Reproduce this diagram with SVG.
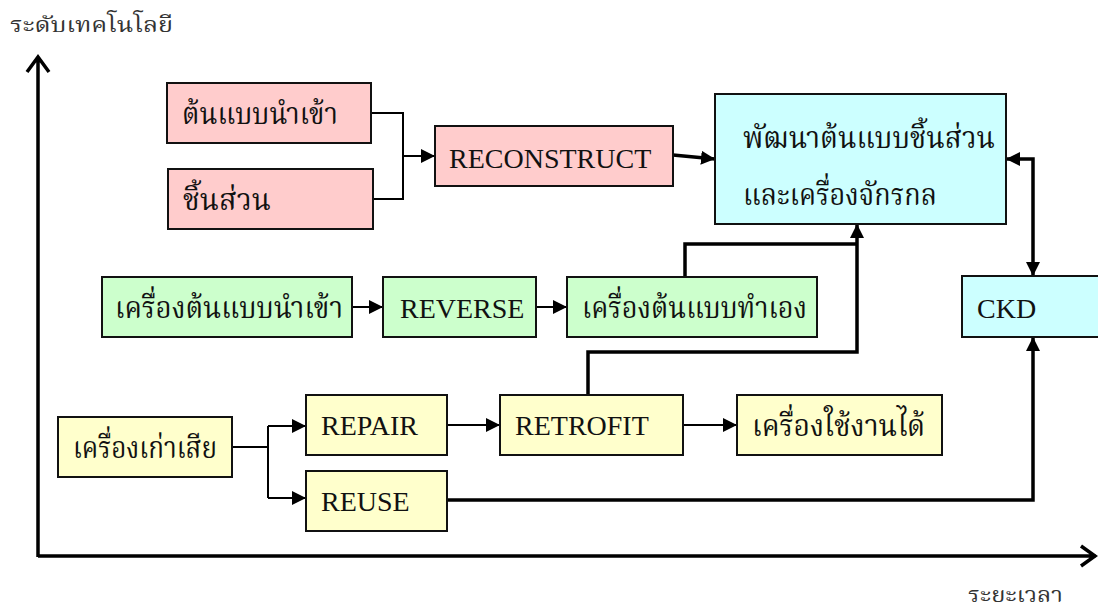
<svg xmlns="http://www.w3.org/2000/svg" width="1098" height="607" viewBox="0 0 1098 607">
<style>
.box{stroke:#111;stroke-width:2}
.pink{fill:#FFCCCC}.cyan{fill:#CCFFFF}.green{fill:#CCFFCC}.yellow{fill:#FFFFCC}
.lat{font-family:"Liberation Serif","Times New Roman",serif;font-size:28px;fill:#111}
.th{font-family:"Liberation Serif","Noto Serif Thai","Norasi","Kinnari","Noto Sans Thai",serif;font-size:30px;fill:#111}
.ax{font-family:"Liberation Serif","Noto Serif Thai","Norasi","Kinnari","Noto Sans Thai",serif;font-size:22px;fill:#333}
.c{fill:none;stroke:#000;stroke-width:2}
.ct{fill:none;stroke:#000;stroke-width:3.5}
.axis{fill:none;stroke:#000;stroke-width:3.5}
</style>
<defs>
<marker id="a" viewBox="0 0 12 12" refX="12" refY="6" markerWidth="14" markerHeight="14" markerUnits="userSpaceOnUse" orient="auto"><path d="M0,0L12,6L0,12z" fill="#000"/></marker>
<marker id="as" viewBox="0 0 12 12" refX="12" refY="6" markerWidth="14" markerHeight="14" markerUnits="userSpaceOnUse" orient="auto-start-reverse"><path d="M0,0L12,6L0,12z" fill="#000"/></marker>
</defs>

<g id="axes">
<path class="axis" d="M38,557V57M27,72L38,57L49,72"/>
<path class="axis" d="M38,556H1096M1081,546L1095,556L1081,566"/>
<text class="ax" x="10" y="32" textLength="163" lengthAdjust="spacingAndGlyphs">ระดับเทคโนโลยี</text>
<text class="ax" x="968" y="602" textLength="95" lengthAdjust="spacingAndGlyphs">ระยะเวลา</text>
</g>

<g id="connectors">
<path class="c" d="M371,113H403V199H373"/>
<path class="c" d="M403,156H435" marker-end="url(#a)"/>
<path class="ct" d="M673,155L715,159" marker-end="url(#a)"/>
<path class="ct" d="M1006,159H1033V276" marker-start="url(#as)" marker-end="url(#as)"/>
<path class="c" d="M352,307H383" marker-end="url(#a)"/>
<path class="c" d="M536,307H567" marker-end="url(#a)"/>
<path class="ct" d="M685,277V244H857"/>
<path class="ct" d="M588,395V352H857V224" marker-end="url(#a)"/>
<path class="c" d="M232,447H268"/>
<path class="c" d="M268,426V498"/>
<path class="c" d="M268,426H306" marker-end="url(#a)"/>
<path class="c" d="M268,498H306" marker-end="url(#a)"/>
<path class="c" d="M447,425H500" marker-end="url(#a)"/>
<path class="c" d="M683,425H737" marker-end="url(#a)"/>
<path class="ct" d="M447,500H1033V337" marker-end="url(#a)"/>
</g>

<g id="n-import"><rect class="box pink" x="167" y="83" width="204" height="60"/><text class="th" x="182" y="124" textLength="156" lengthAdjust="spacingAndGlyphs">ต้นแบบนำเข้า</text></g>
<g id="n-parts"><rect class="box pink" x="168" y="169" width="205" height="60"/><text class="th" x="183" y="210" textLength="88" lengthAdjust="spacingAndGlyphs">ชิ้นส่วน</text></g>
<g id="n-reconstruct"><rect class="box pink" x="435" y="126" width="238" height="60"/><text class="lat" x="449" y="168">RECONSTRUCT</text></g>
<g id="n-develop"><rect class="box cyan" x="715" y="94" width="291" height="130"/><text class="th" x="743" y="148" textLength="252" lengthAdjust="spacingAndGlyphs">พัฒนาต้นแบบชิ้นส่วน</text><text class="th" x="743" y="205" textLength="194" lengthAdjust="spacingAndGlyphs">และเครื่องจักรกล</text></g>
<g id="n-ckd"><rect class="box cyan" x="962" y="276" width="140" height="61"/><text class="lat" x="977" y="318">CKD</text></g>
<g id="n-machine-import"><rect class="box green" x="102" y="277" width="250" height="60"/><text class="th" x="115" y="318" textLength="228" lengthAdjust="spacingAndGlyphs">เครื่องต้นแบบนำเข้า</text></g>
<g id="n-reverse"><rect class="box green" x="383" y="277" width="153" height="60"/><text class="lat" x="400" y="318">REVERSE</text></g>
<g id="n-machine-own"><rect class="box green" x="567" y="277" width="250" height="60"/><text class="th" x="582" y="318" textLength="225" lengthAdjust="spacingAndGlyphs">เครื่องต้นแบบทำเอง</text></g>
<g id="n-old"><rect class="box yellow" x="58" y="417" width="174" height="60"/><text class="th" x="73" y="458" textLength="144" lengthAdjust="spacingAndGlyphs">เครื่องเก่าเสีย</text></g>
<g id="n-repair"><rect class="box yellow" x="306" y="395" width="141" height="60"/><text class="lat" x="321" y="435">REPAIR</text></g>
<g id="n-reuse"><rect class="box yellow" x="306" y="471" width="141" height="60"/><text class="lat" x="321" y="511">REUSE</text></g>
<g id="n-retrofit"><rect class="box yellow" x="500" y="395" width="183" height="60"/><text class="lat" x="515" y="435">RETROFIT</text></g>
<g id="n-usable"><rect class="box yellow" x="737" y="395" width="205" height="60"/><text class="th" x="752" y="436" textLength="173" lengthAdjust="spacingAndGlyphs">เครื่องใช้งานได้</text></g>
</svg>
